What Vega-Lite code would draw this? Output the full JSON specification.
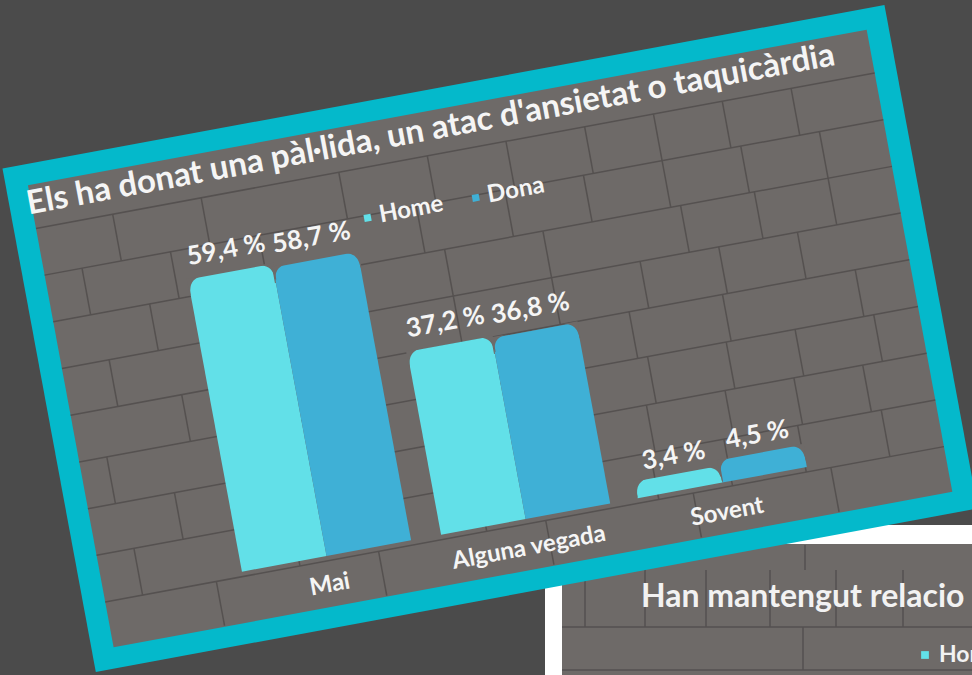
{"$schema":"https://vega.github.io/schema/vega-lite/v6.json","width":972,"height":675,"padding":0,"autosize":{"type":"none"},"background":"#4b4b4b","view":{"stroke":null},
"projection":{"type":"azimuthalEquidistant","scale":28647.9,"translate":[240,572],"rotate":[0,0,10.5]},
"datasets":{"bars":[
{"cat":"Mai","sex":"Home","slot":0.09,"value":0.594,"label":"59,4 %"},
{"cat":"Mai","sex":"Dona","slot":0.262,"value":0.587,"label":"58,7 %"},
{"cat":"Alguna vegada","sex":"Home","slot":0.495,"value":0.372,"label":"37,2 %"},
{"cat":"Alguna vegada","sex":"Dona","slot":0.667,"value":0.368,"label":"36,8 %"},
{"cat":"Sovent","sex":"Home","slot":0.895,"value":0.034,"label":"3,4 %"},
{"cat":"Sovent","sex":"Dona","slot":1.067,"value":0.045,"label":"4,5 %"}],
"cats":[{"cat":"Mai","u":0.172,"v":-0.058},{"cat":"Alguna vegada","u":0.577,"v":-0.058},{"cat":"Sovent","u":0.98,"v":-0.06}],
"legend":[{"sex":"Home","u":0.38,"t":0.404,"v":0.65},{"sex":"Dona","u":0.6,"t":0.624,"v":0.65}],
"title":[{"text":"Els ha donat una pàl·lida, un atac d'ansietat o taquicàrdia","u":-0.285,"v":0.8}],
"frame":[{"u0":-0.32,"u1":1.474,"v":0.368}],
"frameInner":[{"u0":-0.276,"u1":1.43,"v":0.368}],
"courses":[{"v":-0.01},{"v":0.085},{"v":0.18},{"v":0.275},{"v":0.37},{"v":0.465},{"v":0.56},{"v":0.655},{"v":0.75}],
"joints":[
{"u":-0.05,"v0":-0.1,"v1":-0.01},{"u":0.28,"v0":-0.1,"v1":-0.01},{"u":0.62,"v0":-0.1,"v1":-0.01},{"u":0.92,"v0":-0.1,"v1":-0.01},{"u":1.2,"v0":-0.1,"v1":-0.01},
{"u":-0.2,"v0":-0.01,"v1":0.085},{"u":0.12,"v0":-0.01,"v1":0.085},{"u":0.5,"v0":-0.01,"v1":0.085},{"u":0.85,"v0":-0.01,"v1":0.085},{"u":1.0,"v0":-0.01,"v1":0.085},{"u":1.15,"v0":-0.01,"v1":0.085},{"u":1.32,"v0":-0.01,"v1":0.085},
{"u":-0.1,"v0":0.085,"v1":0.18},{"u":0.3,"v0":0.085,"v1":0.18},{"u":0.7,"v0":0.085,"v1":0.18},{"u":0.86,"v0":0.085,"v1":0.18},{"u":1.02,"v0":0.085,"v1":0.18},{"u":1.16,"v0":0.085,"v1":0.18},{"u":1.3,"v0":0.085,"v1":0.18},
{"u":-0.22,"v0":0.18,"v1":0.275},{"u":0.15,"v0":0.18,"v1":0.275},{"u":0.45,"v0":0.18,"v1":0.275},{"u":0.88,"v0":0.18,"v1":0.275},{"u":1.04,"v0":0.18,"v1":0.275},{"u":1.18,"v0":0.18,"v1":0.275},{"u":1.34,"v0":0.18,"v1":0.275},
{"u":-0.05,"v0":0.275,"v1":0.37},{"u":0.32,"v0":0.275,"v1":0.37},{"u":0.66,"v0":0.275,"v1":0.37},{"u":0.86,"v0":0.275,"v1":0.37},{"u":1.05,"v0":0.275,"v1":0.37},{"u":1.32,"v0":0.275,"v1":0.37},
{"u":-0.18,"v0":0.37,"v1":0.465},{"u":0.12,"v0":0.37,"v1":0.465},{"u":0.52,"v0":0.37,"v1":0.465},{"u":0.72,"v0":0.37,"v1":0.465},{"u":0.9,"v0":0.37,"v1":0.465},{"u":1.06,"v0":0.37,"v1":0.465},{"u":1.22,"v0":0.37,"v1":0.465},
{"u":-0.08,"v0":0.465,"v1":0.56},{"u":0.28,"v0":0.465,"v1":0.56},{"u":0.52,"v0":0.465,"v1":0.56},{"u":0.72,"v0":0.465,"v1":0.56},{"u":1.0,"v0":0.465,"v1":0.56},{"u":1.15,"v0":0.465,"v1":0.56},{"u":1.3,"v0":0.465,"v1":0.56},
{"u":-0.2,"v0":0.56,"v1":0.655},{"u":-0.02,"v0":0.56,"v1":0.655},{"u":0.16,"v0":0.56,"v1":0.655},{"u":0.48,"v0":0.56,"v1":0.655},{"u":0.66,"v0":0.56,"v1":0.655},{"u":0.82,"v0":0.56,"v1":0.655},{"u":0.98,"v0":0.56,"v1":0.655},{"u":1.14,"v0":0.56,"v1":0.655},{"u":1.3,"v0":0.56,"v1":0.655},
{"u":-0.12,"v0":0.655,"v1":0.75},{"u":0.06,"v0":0.655,"v1":0.75},{"u":0.34,"v0":0.655,"v1":0.75},{"u":0.52,"v0":0.655,"v1":0.75},{"u":0.68,"v0":0.655,"v1":0.75},{"u":0.84,"v0":0.655,"v1":0.75},{"u":0.98,"v0":0.655,"v1":0.75},{"u":1.12,"v0":0.655,"v1":0.75},{"u":1.26,"v0":0.655,"v1":0.75}],
"sideOuter":[{"a":545,"b":1000,"c":525,"d":700}],
"sideInner":[{"a":562,"b":1000,"c":544,"d":700}],
"sideLines":[{"a":562,"b":1000,"y":627},{"a":562,"b":1000,"y":670}],
"sideJoints":[{"x":585,"y0":570,"y1":627},{"x":645,"y0":545,"y1":570},{"x":805,"y0":545,"y1":570},{"x":645,"y0":570,"y1":627},{"x":706,"y0":570,"y1":627},{"x":770,"y0":570,"y1":627},{"x":836,"y0":570,"y1":627},{"x":903,"y0":570,"y1":627},{"x":803,"y0":627,"y1":670}],
"sidetext":[{"x":641,"y":597,"text":"Han mantengut relacio"}],
"sidelegend":[{"x":925,"tx":939,"y":655,"sex":"Hom"}]},
"layer":[
{"data":{"name":"sideOuter"},"mark":{"type":"rect","color":"#ffffff"},"encoding":{"x":{"field":"a","type":"quantitative","scale":{"domain":[0,972],"nice":false},"axis":null},"x2":{"field":"b"},"y":{"field":"c","type":"quantitative","scale":{"domain":[675,0],"nice":false},"axis":null},"y2":{"field":"d"}}},
{"data":{"name":"sideInner"},"mark":{"type":"rect","color":"#6e6a68"},"encoding":{"x":{"field":"a","type":"quantitative","axis":null},"x2":{"field":"b"},"y":{"field":"c","type":"quantitative","axis":null},"y2":{"field":"d"}}},
{"data":{"name":"sideLines"},"mark":{"type":"rule","color":"#555150","strokeWidth":1.5},"encoding":{"x":{"field":"a","type":"quantitative","axis":null},"x2":{"field":"b"},"y":{"field":"y","type":"quantitative","axis":null}}},
{"data":{"name":"sideJoints"},"mark":{"type":"rule","color":"#555150","strokeWidth":1.5},"encoding":{"x":{"field":"x","type":"quantitative","axis":null},"y":{"field":"y0","type":"quantitative","axis":null},"y2":{"field":"y1"}}},
{"data":{"name":"sidetext"},"mark":{"type":"text","font":"Lato","fontWeight":"bold","fontSize":32,"align":"left","baseline":"middle","color":"#f2f2f2"},"encoding":{"x":{"field":"x","type":"quantitative","axis":null},"y":{"field":"y","type":"quantitative","axis":null},"text":{"field":"text"}}},
{"data":{"name":"sidelegend"},"mark":{"type":"square","filled":true,"opacity":1,"size":60,"color":"#62e0e8"},"encoding":{"x":{"field":"x","type":"quantitative","axis":null},"y":{"field":"y","type":"quantitative","axis":null}}},
{"data":{"name":"sidelegend"},"mark":{"type":"text","font":"Lato","fontWeight":"bold","fontSize":23,"align":"left","baseline":"middle","color":"#f2f2f2"},"encoding":{"x":{"field":"tx","type":"quantitative","axis":null},"y":{"field":"y","type":"quantitative","axis":null},"text":{"field":"sex"}}},
{"data":{"name":"frame"},"mark":{"type":"rule","stroke":"#04b9cb","strokeWidth":512},"encoding":{"longitude":{"field":"u0","type":"quantitative"},"latitude":{"field":"v","type":"quantitative"},"longitude2":{"field":"u1"},"latitude2":{"field":"v"}}},
{"data":{"name":"frameInner"},"mark":{"type":"rule","stroke":"#6e6a68","strokeWidth":470},"encoding":{"longitude":{"field":"u0","type":"quantitative"},"latitude":{"field":"v","type":"quantitative"},"longitude2":{"field":"u1"},"latitude2":{"field":"v"}}},
{"data":{"name":"courses"},"mark":{"type":"rule","stroke":"#555150","strokeWidth":1.5},"encoding":{"longitude":{"datum":-0.276},"latitude":{"field":"v","type":"quantitative"},"longitude2":{"datum":1.43},"latitude2":{"field":"v"}}},
{"data":{"name":"joints"},"mark":{"type":"rule","stroke":"#555150","strokeWidth":1.5},"encoding":{"longitude":{"field":"u","type":"quantitative"},"latitude":{"field":"v0","type":"quantitative"},"longitude2":{"field":"u"},"latitude2":{"field":"v1"}}},
{"data":{"name":"bars"},"mark":{"type":"rule","strokeWidth":86},"encoding":{"longitude":{"field":"slot","type":"quantitative"},"latitude":{"field":"value","type":"quantitative"},"longitude2":{"field":"slot"},"latitude2":{"datum":0},"color":{"field":"sex","type":"nominal","scale":{"domain":["Home","Dona"],"range":["#62e0e8","#3fb0d6"]},"legend":null}}},
{"data":{"name":"bars"},"mark":{"type":"point","filled":true,"opacity":1,"color":"#6e6a68","size":4,"angle":349.5,"shape":"M-44,-1 L-27,-1 Q-43,-1 -43,16 L-44,16 Z M44,-1 L27,-1 Q43,-1 43,16 L44,16 Z"},"encoding":{"longitude":{"field":"slot","type":"quantitative"},"latitude":{"field":"value","type":"quantitative"}}},
{"data":{"name":"bars"},"transform":[{"filter":"datum.cat!='Sovent'"}],"mark":{"type":"text","font":"Lato","fontWeight":"bold","fontSize":26,"angle":349.5,"color":"#f5f5f5","baseline":"middle","dy":-22},"encoding":{"longitude":{"field":"slot","type":"quantitative"},"latitude":{"field":"value","type":"quantitative"},"text":{"field":"label"}}},
{"data":{"name":"bars"},"transform":[{"filter":"datum.cat=='Sovent'"}],"mark":{"type":"text","font":"Lato","fontWeight":"bold","fontSize":26,"angle":349.5,"color":"#f5f5f5","baseline":"middle","dy":-18},"encoding":{"longitude":{"field":"slot","type":"quantitative"},"latitude":{"field":"value","type":"quantitative"},"text":{"field":"label"}}},
{"data":{"name":"cats"},"mark":{"type":"text","font":"Lato","fontWeight":"bold","fontSize":24,"angle":349.5,"color":"#f5f5f5","baseline":"middle"},"encoding":{"longitude":{"field":"u","type":"quantitative"},"latitude":{"field":"v","type":"quantitative"},"text":{"field":"cat"}}},
{"data":{"name":"legend"},"mark":{"type":"square","filled":true,"opacity":1,"size":50,"angle":349.5},"encoding":{"longitude":{"field":"u","type":"quantitative"},"latitude":{"field":"v","type":"quantitative"},"color":{"field":"sex","type":"nominal","legend":null}}},
{"data":{"name":"legend"},"mark":{"type":"text","font":"Lato","fontWeight":"bold","fontSize":24,"angle":349.5,"align":"left","color":"#f5f5f5","baseline":"middle"},"encoding":{"longitude":{"field":"t","type":"quantitative"},"latitude":{"field":"v","type":"quantitative"},"text":{"field":"sex"}}},
{"data":{"name":"title"},"mark":{"type":"text","font":"Lato","fontWeight":"bold","fontSize":33,"angle":349.5,"align":"left","color":"#f5f5f5","baseline":"middle"},"encoding":{"longitude":{"field":"u","type":"quantitative"},"latitude":{"field":"v","type":"quantitative"},"text":{"field":"text"}}}
]}
